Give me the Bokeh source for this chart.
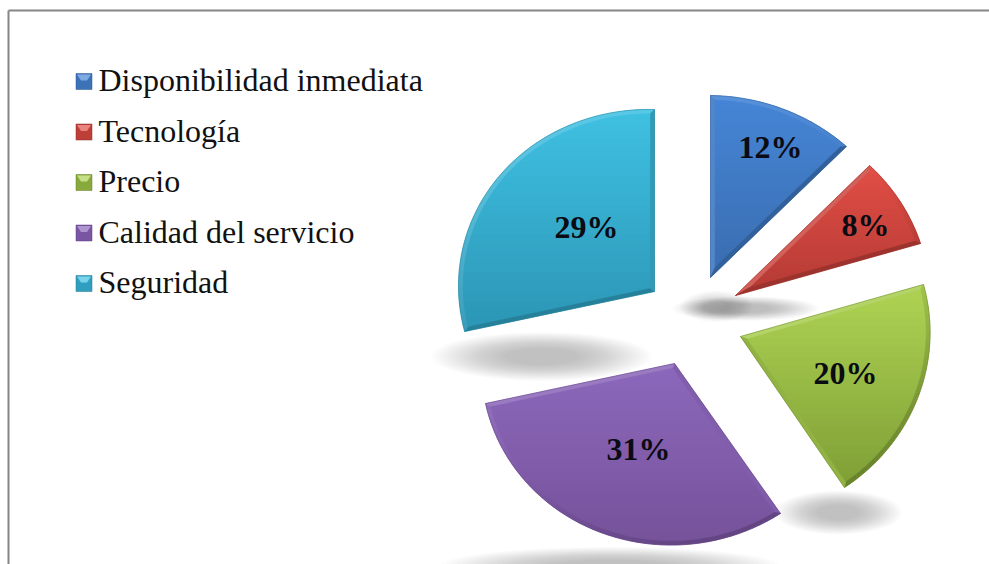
import math
from bokeh.plotting import figure
from bokeh.models import Range1d
from bokeh.embed import file_html
from bokeh.resources import INLINE
from bokeh.core.properties import value

categories = ["Disponibilidad inmediata", "Tecnología", "Precio", "Calidad del servicio", "Seguridad"]
percent = [12, 8, 20, 31, 29]

# colour (top, bottom) of each slice
top_colors = ["#4585D6", "#E04E45", "#AED353", "#8C68BC", "#3FC0E2"]
bot_colors = ["#3A6DB0", "#B53A35", "#7F9F36", "#76529B", "#2C96B5"]

# layout: exploded apex and projection (a, s, b, t) of each slice
apex = [(710, 277), (735, 295), (740, 336), (674, 363), (654, 291)]
proj = [(198.5, 0, 182, 2.5), (194, 1.7, 182.7, 4.7), (189.4, 9.1, 183.2, 4.8),
        (192.8, 9.1, 181.5, 5.3), (196, 0, 182, 5.4)]
label_xy = [(770, 146), (865, 224), (845, 372), (638, 448), (586, 226)]

# soft shadows: cx, cy, rx, ry, strength
shadows = [(541, 356, 90, 20, 0.034), (745, 308, 60, 10, 0.026), (716, 306, 30, 13, 0.016),
           (838, 512, 52, 18, 0.034), (610, 566, 140, 16, 0.034)]

legend_y = [79.5, 130, 180.5, 231, 281.5]
swatch_y = [81, 131.5, 182, 232.5, 283]
W, H = 989, 564

p = figure(width=W, height=H, x_range=Range1d(0, W), y_range=Range1d(H, 0),
           output_backend="svg", toolbar_location=None, min_border=0)
p.axis.visible = False
p.grid.visible = False
p.outline_line_color = None
p.background_fill_color = "white"
p.border_fill_color = "white"


def hex2rgb(c):
    return tuple(int(c[i:i + 2], 16) for i in (1, 3, 5))


def mix(c1, c2, f):
    a, b = hex2rgb(c1), hex2rgb(c2)
    return "#%02x%02x%02x" % tuple(int(round(a[i] + (b[i] - a[i]) * f)) for i in range(3))


def clip_below(poly, y0):
    """Keep the part of a convex polygon with y >= y0."""
    out = []
    n = len(poly)
    for i in range(n):
        x1, y1 = poly[i]
        x2, y2 = poly[(i + 1) % n]
        if y1 >= y0:
            out.append((x1, y1))
        if (y1 >= y0) != (y2 >= y0):
            f = (y0 - y1) / (y2 - y1)
            out.append((x1 + (x2 - x1) * f, y0))
    return out


def wedge_outline(ap, pr, t0, t1, inset, steps=48):
    a, s, b, t = pr
    half = (t1 - t0) / 2
    mid = (t0 + t1) / 2
    d = inset / math.sin(half)
    R = 1 - inset / 190.0
    pad = inset / 190.0
    pts = [(d * math.sin(mid) / 190.0, d * math.cos(mid) / 190.0)]
    for i in range(steps + 1):
        th = t0 + pad + (t1 - t0 - 2 * pad) * i / steps
        pts.append((R * math.sin(th), R * math.cos(th)))
    return [(ap[0] + a * u + s * v, ap[1] - b * v + t * u) for u, v in pts]


# frame
p.line([8, 8], [10, H], line_color="#868686", line_width=2)
p.line([8, W], [10, 10], line_color="#868686", line_width=2)

# shadows
for cx, cy, rx, ry, strength in shadows:
    n = 24
    for i in range(n):
        f = 1.22 - 0.85 * i / n
        p.ellipse(x=[cx], y=[cy], width=[2 * rx * f], height=[2 * ry * f],
                  fill_color="#7f7f7f", fill_alpha=strength * 0.7, line_color=None)

# slices
total = sum(percent)
cum = 0
for k, v in enumerate(percent):
    t0 = 2 * math.pi * cum / total
    t1 = 2 * math.pi * (cum + v) / total
    cum += v
    outer = wedge_outline(apex[k], proj[k], t0, t1, 0)
    inner = wedge_outline(apex[k], proj[k], t0, t1, 4)

    # vertical gradient of the face
    ys = [q[1] for q in outer]
    ymin, ymax = min(ys), max(ys)
    n = 30
    xs_g, ys_g, cols = [], [], []
    p.patch([q[0] for q in outer], [q[1] for q in outer], fill_color=top_colors[k], line_color=None)
    for i in range(n):
        y0 = ymin + (ymax - ymin) * i / n
        part = clip_below(inner, y0)
        if len(part) > 2:
            xs_g.append([q[0] for q in part])
            ys_g.append([q[1] for q in part])
            cols.append(mix(top_colors[k], bot_colors[k], i / (n - 1)))
    p.patches(xs_g, ys_g, fill_color=cols, line_color=None)

    # bevel: quads between the outline and the inset, lit from the upper left
    xs_b, ys_b, cols_b = [], [], []
    m = len(outer)
    for i in range(m):
        j = (i + 1) % m
        ex, ey = outer[j][0] - outer[i][0], outer[j][1] - outer[i][1]
        L = math.hypot(ex, ey) or 1
        nx, ny = ey / L, -ex / L
        light = -ny * 0.6 - nx * 0.5
        yfrac = ((outer[i][1] + outer[j][1]) / 2 - ymin) / (ymax - ymin)
        base = mix(top_colors[k], bot_colors[k], yfrac)
        col = mix(base, "#ffffff", 0.2 * light) if light > 0 else mix(base, "#000000", -0.24 * light)
        xs_b.append([outer[i][0], outer[j][0], inner[j][0], inner[i][0]])
        ys_b.append([outer[i][1], outer[j][1], inner[j][1], inner[i][1]])
        cols_b.append(col)
    p.patches(xs_b, ys_b, fill_color=cols_b, line_color=cols_b, line_width=0.5)

    # thin darker rim
    p.patch([q[0] for q in outer], [q[1] for q in outer], fill_color=None,
            line_color=mix(bot_colors[k], "#000000", 0.15), line_width=0.8, line_alpha=0.6)

# value labels
p.text(x=[q[0] for q in label_xy], y=[q[1] for q in label_xy], text=[f"{v}%" for v in percent],
       text_font=value("Liberation Serif"), text_font_style="bold", text_font_size="32px",
       text_color="#0b0b14", text_align="center", text_baseline="middle")

# legend
size = 8
for k, y in enumerate(swatch_y):
    cx = 83.5
    p.rect([cx], [y], width=[size * 2], height=[size * 2], fill_color=mix(top_colors[k], bot_colors[k], 0.8),
           line_color=mix(bot_colors[k], "#000000", 0.2), line_width=0.5)
    p.patch([cx - size + 1, cx + size - 1, cx + size - 5, cx - size + 5],
            [y - size + 1, y - size + 1, y - 1, y - 1],
            fill_color=mix(top_colors[k], "#ffffff", 0.3), line_color=None)

p.text(x=[98] * 5, y=legend_y, text=categories, text_font=value("Liberation Serif"),
       text_font_size="32px", text_color="#111111", text_align="left", text_baseline="middle")

open("out.html", "w").write(file_html(p, INLINE))
